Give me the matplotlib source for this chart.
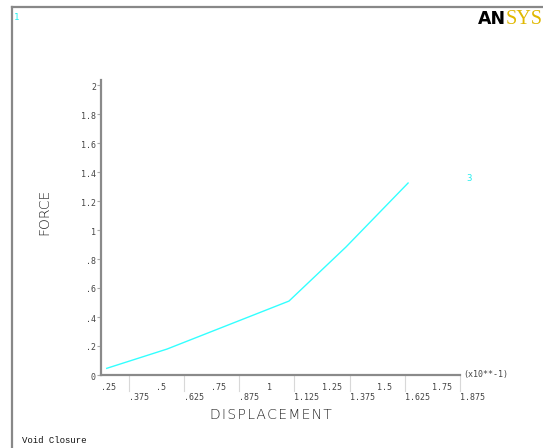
import matplotlib.pyplot as plt
import matplotlib.transforms as mtransforms

# Force vs displacement (displacement in units of 10**-1)
displacement = [0.276, 0.549, 1.101, 1.359, 1.64]
force = [0.046, 0.179, 0.51, 0.883, 1.324]

y_ticks = [0, 0.2, 0.4, 0.6, 0.8, 1.0, 1.2, 1.4, 1.6, 1.8, 2.0]
y_labels = ["0", ".2", ".4", ".6", ".8", "1", "1.2", "1.4", "1.6", "1.8", "2"]
x_row1 = [0.25, 0.5, 0.75, 1.0, 1.25, 1.5, 1.75]
x_row1_labels = [".25", ".5", ".75", "1", "1.25", "1.5", "1.75"]
x_row2 = [0.375, 0.625, 0.875, 1.125, 1.375, 1.625, 1.875]
x_row2_labels = [".375", ".625", ".875", "1.125", "1.375", "1.625", "1.875"]

W, H = 543, 448
fig = plt.figure(figsize=(W / 100, H / 100), dpi=100)
fig.patch.set_facecolor("white")

# plot area in pixels
left, right, top, bottom = 101, 460, 80, 375
ax = fig.add_axes([left / W, 1 - bottom / H, (right - left) / W, (bottom - top) / H])
ax.set_xlim(0.25, 1.875)
ax.set_ylim(0, 2 * (bottom - top) / 290)
ax.patch.set_alpha(0)

for side in ["top", "right"]:
    ax.spines[side].set_visible(False)
for side in ["left", "bottom"]:
    ax.spines[side].set_color("#8a8a8a")
    ax.spines[side].set_linewidth(1.6)

ax.plot(displacement, force, color="#33ffff", linewidth=1.0)

mono = dict(family="DejaVu Sans Mono", fontsize=6, color="#444444")

# y axis ticks and labels
ax.set_yticks(y_ticks)
ax.set_yticklabels([])
ax.tick_params(axis="y", direction="out", length=3, width=0.8, color="#aaaaaa")
ytrans = ax.get_yaxis_transform() + mtransforms.ScaledTranslation(0, -2 / 100, fig.dpi_scale_trans)
for v, s in zip(y_ticks, y_labels):
    ax.text(-0.014, v, s, transform=ytrans, ha="right", va="center", **mono)

# x axis: two staggered rows of labels, separators at second-row ticks
ax.set_xticks([])
trans = mtransforms.blended_transform_factory(ax.transData, fig.transFigure)
for v in x_row2:
    ax.plot([v, v], [1 - 376 / H, 1 - 391 / H], transform=trans, color="#d8d8d8",
            linewidth=0.8, clip_on=False)
for v, s in zip(x_row1, x_row1_labels):
    ax.text(v, 1 - 387 / H, s, transform=trans, ha="left", va="center", **mono)
for v, s in zip(x_row2, x_row2_labels):
    ax.text(v, 1 - 397 / H, s, transform=trans, ha="left", va="center", **mono)

fig.text(463 / W, 1 - 374 / H, "(x10**-1)", ha="left", va="center", **mono)

label_style = dict(family="DejaVu Sans", fontweight="light", fontsize=10,
                   color="#222222")
fig.text(271 / W, 1 - 415 / H, "D I S P L A C E M E N T".replace(" ", "\u200a"),
         ha="center", va="center", **label_style)
fig.text(44 / W, 1 - 212 / H, "FORCE", rotation=90, ha="center", va="center",
         **label_style)

# curve number and window number
fig.text(469 / W, 1 - 178 / H, "3", ha="center", va="center", color="#22eeee",
         family="DejaVu Sans Mono", fontsize=6.5)
fig.text(17 / W, 1 - 17 / H, "1", ha="center", va="center", color="#22eeee",
         family="DejaVu Sans Mono", fontsize=6.5)

fig.text(22 / W, 1 - 440 / H, "Void Closure", ha="left", va="center",
         family="Liberation Mono", fontsize=6.5, color="#111111")

# window frame
fig.add_artist(plt.Line2D([12 / W, 1], [1 - 7 / H, 1 - 7 / H], color="#888888",
                          linewidth=1.6, transform=fig.transFigure))
fig.add_artist(plt.Line2D([12 / W, 12 / W], [1 - 7 / H, 0], color="#888888",
                          linewidth=1.6, transform=fig.transFigure))

# logo
fig.text(478 / W, 1 - 19 / H, "AN", ha="left", va="center", family="DejaVu Sans",
         fontweight="heavy", fontsize=12.5, color="black")
fig.text(506 / W, 1 - 19 / H, "SYS", ha="left", va="center",
         family="Liberation Serif", fontsize=14.5, color="#e0b800")

fig.savefig("out.png", dpi=100)
